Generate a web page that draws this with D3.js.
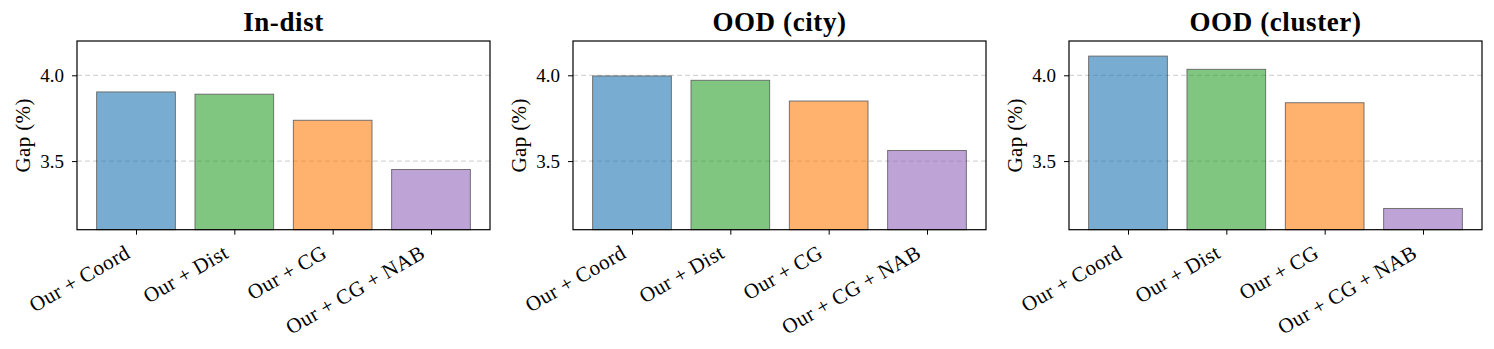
<!DOCTYPE html>
<html>
<head>
<meta charset="utf-8">
<script src="https://cdn.jsdelivr.net/npm/d3@7"></script>
<style>
  html, body { margin: 0; padding: 0; background: #fff; }
  svg { display: block; }
  text { font-family: "Liberation Serif", "Times New Roman", serif; fill: #000; }
</style>
</head>
<body>
<svg id="chart" width="1494" height="349"></svg>
<script>
// ---- data ----
const categories = ["Our + Coord", "Our + Dist", "Our + CG", "Our + CG + NAB"];
const panelTitles = ["In-dist", "OOD (city)", "OOD (cluster)"];
const inDistValues = [3.903, 3.890, 3.738, 3.451];
const oodCityValues = [3.996, 3.971, 3.850, 3.562];
const oodClusterValues = [4.112, 4.035, 3.840, 3.224];
const yTicks = [3.5, 4.0];
const yDomain = [3.1, 4.2];
const barColors = ["#1f77b4", "#2ca02c", "#ff7f0e", "#9467bd"];
const yLabel = "Gap (%)";

const panels = [
  { title: panelTitles[0], values: inDistValues, left: 77 },
  { title: panelTitles[1], values: oodCityValues, left: 573 },
  { title: panelTitles[2], values: oodClusterValues, left: 1069 }
];

const axW = 413, axTop = 41, axBottom = 229.7;
const svg = d3.select("#chart");

panels.forEach(p => {
  const g = svg.append("g");
  const x = d3.scaleLinear().domain([-0.6, 3.6]).range([p.left, p.left + axW]);
  const y = d3.scaleLinear().domain(yDomain).range([axBottom, axTop]);

  // grid
  g.selectAll("line.grid").data(yTicks).enter().append("line")
    .attr("x1", p.left).attr("x2", p.left + axW)
    .attr("y1", d => y(d)).attr("y2", d => y(d))
    .attr("stroke", "#cccccc").attr("stroke-width", 1)
    .attr("stroke-dasharray", "5,3");

  // bars
  g.selectAll("rect.bar").data(p.values).enter().append("rect")
    .attr("x", (d, i) => x(i - 0.4))
    .attr("width", x(0.8) - x(0))
    .attr("y", d => y(d))
    .attr("height", d => y(yDomain[0]) - y(d))
    .attr("fill", (d, i) => barColors[i])
    .attr("stroke", "#000")
    .attr("stroke-width", 0.9)
    .attr("opacity", 0.6);

  // y axis
  const yAxis = d3.axisLeft(y).tickValues(yTicks).tickFormat(d3.format(".1f"))
    .tickSize(5).tickPadding(8);
  const ya = g.append("g").attr("transform", `translate(${p.left},0)`).call(yAxis);
  ya.select(".domain").remove();
  ya.selectAll("line").attr("stroke", "#000").attr("stroke-width", 1);
  ya.selectAll("text").attr("font-size", 19).attr("font-family", "Liberation Serif").attr("dy", "0.34em");

  // x axis
  const xAxis = d3.axisBottom(x).tickValues(d3.range(categories.length))
    .tickFormat(i => categories[i]).tickSize(5);
  const xa = g.append("g").attr("transform", `translate(0,${axBottom})`).call(xAxis);
  xa.select(".domain").remove();
  xa.selectAll("line").attr("stroke", "#000").attr("stroke-width", 1);
  xa.selectAll("text")
    .attr("font-size", 21).attr("font-family", "Liberation Serif")
    .attr("letter-spacing", "0.4px")
    .attr("text-anchor", "end")
    .attr("x", null).attr("y", null).attr("dy", null)
    .attr("transform", "translate(-5,27) rotate(-30)");

  // frame
  g.append("rect")
    .attr("x", p.left).attr("y", axTop)
    .attr("width", axW).attr("height", axBottom - axTop)
    .attr("fill", "none").attr("stroke", "#000").attr("stroke-width", 1.2);

  // title
  g.append("text")
    .attr("x", p.left + axW / 2).attr("y", 31)
    .attr("text-anchor", "middle")
    .attr("font-size", 27).attr("font-weight", "bold")
    .attr("letter-spacing", "0.6px")
    .text(p.title);

  // y label
  g.append("text")
    .attr("transform", `translate(${p.left - 47},${(axTop + axBottom) / 2}) rotate(-90)`)
    .attr("text-anchor", "middle")
    .attr("font-size", 21)
    .attr("letter-spacing", "0.4px")
    .text(yLabel);
});
</script>
</body>
</html>
